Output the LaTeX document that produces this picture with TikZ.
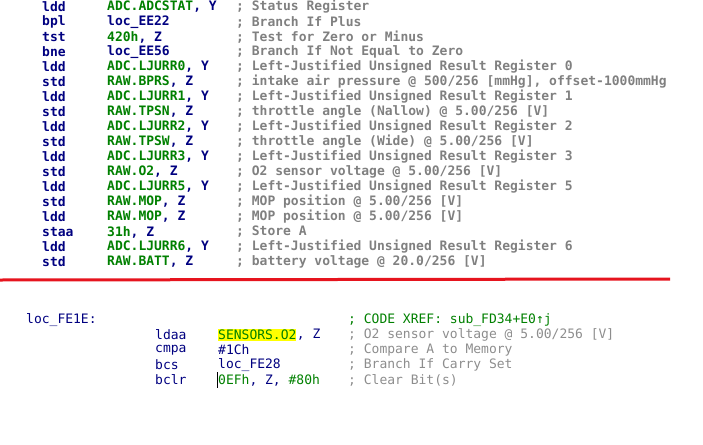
\documentclass[tikz,border=0pt]{standalone}
\usepackage{fontspec}
\setmonofont{DejaVu Sans Mono}
\usetikzlibrary{positioning}
\definecolor{asm-op}{RGB}{0,0,128}
\definecolor{asm-arg}{RGB}{0,128,0}
\definecolor{asm-cmt}{RGB}{128,128,128}
\definecolor{asm-hl}{RGB}{255,255,0}
\definecolor{asm-cut}{RGB}{230,20,30}
\newcommand{\ga}[1]{\textcolor{asm-arg}{#1}}
\begin{document}
\begin{tikzpicture}[x=1pt, y=-1pt,
  code/.style={anchor=west, inner sep=0pt, font=\ttfamily\fontsize{13}{13}\selectfont},
  code top/.style={code, font=\ttfamily\bfseries\fontsize{13}{13}\selectfont}]
\useasboundingbox (0,0) rectangle (703,444);
\foreach \i/\op/\arg/\cmt in {
    0/ldd/{\ga{ADC.ADCSTAT}, Y}/{Status Register},
    1/bpl/{loc\_EE22}/{Branch If Plus},
    2/tst/{\ga{420h}, Z}/{Test for Zero or Minus},
    3/bne/{loc\_EE56}/{Branch If Not Equal to Zero},
    4/ldd/{\ga{ADC.LJURR0}, Y}/{Left-Justified Unsigned Result Register 0},
    5/std/{\ga{RAW.BPRS}, Z}/{intake air pressure @ 500/256 [mmHg], offset-1000mmHg},
    6/ldd/{\ga{ADC.LJURR1}, Y}/{Left-Justified Unsigned Result Register 1},
    7/std/{\ga{RAW.TPSN}, Z}/{throttle angle (Nallow) @ 5.00/256 [V]},
    8/ldd/{\ga{ADC.LJURR2}, Y}/{Left-Justified Unsigned Result Register 2},
    9/std/{\ga{RAW.TPSW}, Z}/{throttle angle (Wide) @ 5.00/256 [V]},
    10/ldd/{\ga{ADC.LJURR3}, Y}/{Left-Justified Unsigned Result Register 3},
    11/std/{\ga{RAW.O2}, Z}/{O2 sensor voltage @ 5.00/256 [V]},
    12/ldd/{\ga{ADC.LJURR5}, Y}/{Left-Justified Unsigned Result Register 5},
    13/std/{\ga{RAW.MOP}, Z}/{MOP position @ 5.00/256 [V]},
    14/ldd/{\ga{RAW.MOP}, Z}/{MOP position @ 5.00/256 [V]},
    15/staa/{\ga{31h}, Z}/{Store A},
    16/ldd/{\ga{ADC.LJURR6}, Y}/{Left-Justified Unsigned Result Register 6},
    17/std/{\ga{RAW.BATT}, Z}/{battery voltage @ 20.0/256 [V]}} {
  \node[code top, text=asm-op] (op-\i) at (42, 7+15*\i) {\op};
  \node[code top, text=asm-op] (arg-\i) at (107, 7+15*\i) {\arg};
  \node[code top, text=asm-cmt] (cmt-\i) at (236, 7+15*\i) {; \cmt};
}
% cut between the two listings
\coordinate (cut-l) at (0, 280);
\coordinate (cut-r) at (670, 279);
\draw[asm-cut, line width=3pt] (cut-l) -- (cut-r);
\node[code, text=asm-op] (label) at (26, 320) {loc\_FE1E:};
\node[code, text=asm-arg] (xref) at (348, 320) {; CODE XREF: sub\_FD34+E0↑j};
\node[code, text=asm-op] (op-a) at (155, 335) {ldaa};
\node[code, text=asm-arg, fill=asm-hl, inner ysep=1pt] (arg-a) at (218, 335) {SENSORS.O2};
\node[code, text=asm-op, right=0pt of arg-a] (arg-a2) {, Z};
\node[code, text=asm-cmt!90] (cmt-a) at (348, 335) {; O2 sensor voltage @ 5.00/256 [V]};
\node[code, text=asm-op] (op-b) at (155, 350) {cmpa};
\node[code, text=asm-op] (arg-b) at (218, 350) {\#1Ch};
\node[code, text=asm-cmt!90] (cmt-b) at (348, 350) {; Compare A to Memory};
\node[code, text=asm-op] (op-c) at (155, 365) {bcs};
\node[code, text=asm-op] (arg-c) at (218, 365) {loc\_FE28};
\node[code, text=asm-cmt!90] (cmt-c) at (348, 365) {; Branch If Carry Set};
\node[code, text=asm-op] (op-d) at (155, 380) {bclr};
\node[code, text=asm-op] (arg-d) at (218, 380) {\ga{0EFh}, Z, \ga{\#80h}};
\node[code, text=asm-cmt!90] (cmt-d) at (348, 380) {; Clear Bit(s)};
\draw[line width=1pt] (217, 372) -- (217, 388);
\end{tikzpicture}
\end{document}
